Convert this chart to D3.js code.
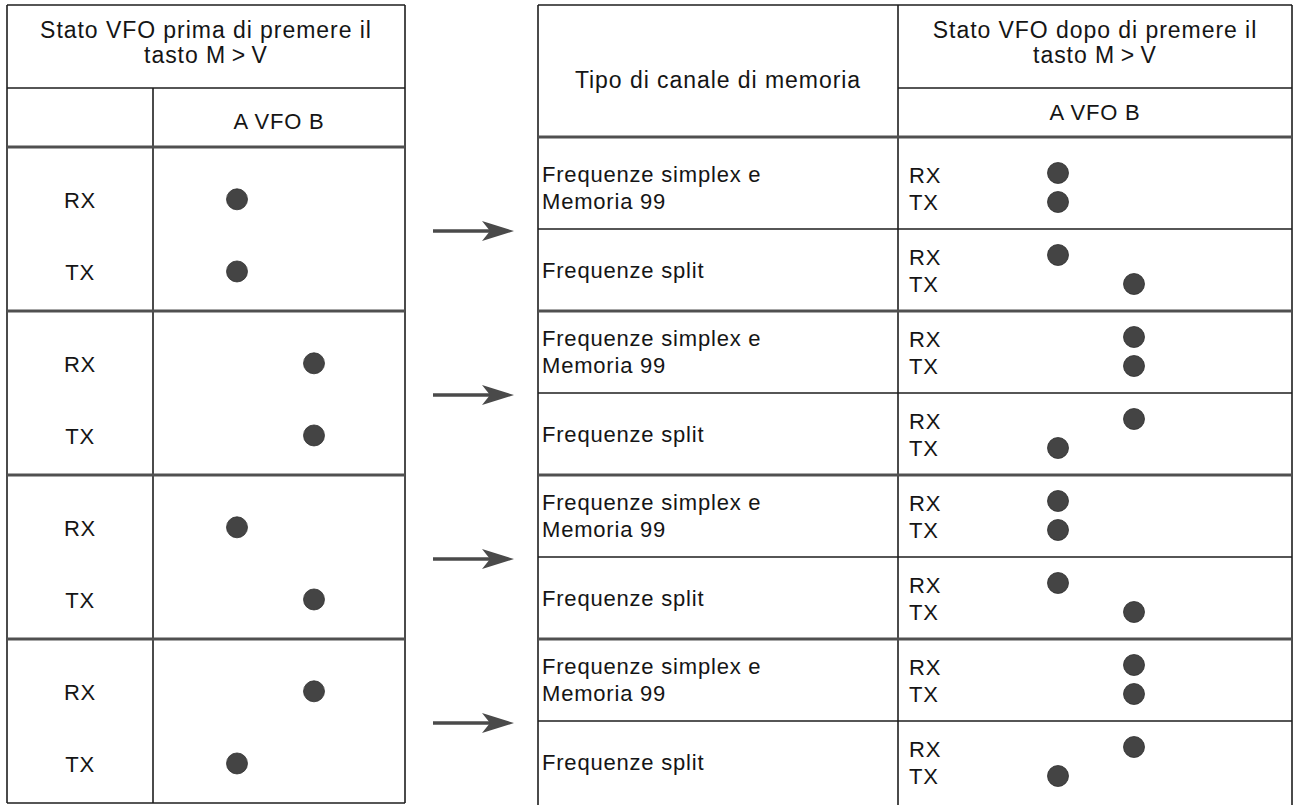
<!DOCTYPE html>
<html>
<head>
<meta charset="utf-8">
<script src="https://cdn.jsdelivr.net/npm/d3@7"></script>
<style>
  html, body { margin: 0; padding: 0; background: #fff; }
  svg text { font-family: "Liberation Sans", Arial, Helvetica, sans-serif; font-size: 22px; fill: #151515; letter-spacing: 0.8px; }
  svg text.hdr { font-size: 23px; letter-spacing: 0.95px; }
</style>
</head>
<body>
<svg id="chart" width="1300" height="805"></svg>
<script>
// ---- data ----
const groups = [0, 1, 2, 3];
const vfoSlots = ["A", "B"];
const beforeRX = ["A", "B", "A", "B"];
const beforeTX = ["A", "B", "B", "A"];
const memTypes = [["Frequenze simplex e", "Memoria 99"], ["Frequenze split"]];
const afterRX = [["A", "A"], ["B", "B"], ["A", "A"], ["B", "B"]]; // [simplex, split] per group
const afterTX = [["A", "B"], ["B", "A"], ["A", "B"], ["B", "A"]];
const headerBefore = ["Stato VFO prima di premere il", "tasto M\u2009>\u2009V"];
const headerAfter = ["Stato VFO dopo di premere il", "tasto M\u2009>\u2009V"];
const headerType = "Tipo di canale di memoria";
const vfoLabel = "A VFO B";
const rxtx = ["RX", "TX"];

// ---- layout ----
const svg = d3.select("#chart");
const L = { x0: 7, x1: 153, x2: 405, top: 5, h1: 88, h2: 147, bottom: 803 };
const R = { x0: 538, x1: 898, x2: 1292, top: 5, h1: 88, h2: 137, bottom: 805 };

const yGroup = d3.scaleBand().domain(groups).range([L.h2, L.bottom]);
const xLeft = d3.scalePoint().domain(vfoSlots).range([237, 314]);
const xRight = d3.scalePoint().domain(vfoSlots).range([1058, 1134]);

const thin = { stroke: "#1e1e1e", w: 1.6 };
const thick = { stroke: "#505050", w: 3.2 };
function line(x1, y1, x2, y2, s) {
  svg.append("line").attr("x1", x1).attr("y1", y1).attr("x2", x2).attr("y2", y2)
    .attr("stroke", s.stroke).attr("stroke-width", s.w);
}
function text(x, y, t, anchor, cls) {
  return svg.append("text").attr("x", x).attr("y", y).attr("dy", "0.35em")
    .attr("class", cls || null)
    .attr("text-anchor", anchor || "middle").text(t);
}
const dotR = 10.5;
function dot(x, y) {
  svg.append("circle").attr("cx", x).attr("cy", y).attr("r", dotR)
    .attr("fill", "#444444").attr("stroke", "#2e2e2e").attr("stroke-width", 0.8);
}

// ---- left table ----
line(L.x0, L.top, L.x2, L.top, thin);
line(L.x0, L.top, L.x0, L.bottom, thin);
line(L.x2, L.top, L.x2, L.bottom, thin);
line(L.x0, L.bottom, L.x2, L.bottom, thin);
line(L.x0, L.h1, L.x2, L.h1, thin);
line(L.x1, L.h1, L.x1, L.bottom, thin);
groups.forEach(g => { line(L.x0, yGroup(g), L.x2, yGroup(g), thick); });

text((L.x0 + L.x2) / 2, 30, headerBefore[0], "middle", "hdr");
text((L.x0 + L.x2) / 2, 55, headerBefore[1], "middle", "hdr");
text((L.x1 + L.x2) / 2, 121, vfoLabel);

groups.forEach(g => {
  const t = yGroup(g), h = yGroup.bandwidth();
  const yRX = t + 0.325 * h, yTX = t + 0.765 * h;
  text((L.x0 + L.x1) / 2, yRX, rxtx[0]);
  text((L.x0 + L.x1) / 2, yTX, rxtx[1]);
  dot(xLeft(beforeRX[g]), yRX - 1);
  dot(xLeft(beforeTX[g]), yTX - 1);
});

// ---- arrows ----
groups.forEach(g => {
  const y = yGroup(g) + yGroup.bandwidth() / 2 + 2;
  const xa = 433, xb = 514;
  svg.append("line").attr("x1", xa).attr("y1", y).attr("x2", xb - 20).attr("y2", y)
    .attr("stroke", "#4a4a4a").attr("stroke-width", 3.4);
  svg.append("path")
    .attr("d", `M${xb},${y} L${xb - 32},${y - 10} L${xb - 24},${y} L${xb - 32},${y + 10} Z`)
    .attr("fill", "#4a4a4a");
});

// ---- right table ----
line(R.x0, R.top, R.x2, R.top, thin);
line(R.x0, R.top, R.x0, R.bottom, thin);
line(R.x2, R.top, R.x2, R.bottom, thin);
line(R.x1, R.top, R.x1, R.bottom, thin);
line(R.x1, R.h1, R.x2, R.h1, thin);
line(R.x0, R.h2, R.x2, R.h2, thick);

text((R.x0 + R.x1) / 2, 80, headerType, "middle", "hdr");
text((R.x1 + R.x2) / 2, 30, headerAfter[0], "middle", "hdr");
text((R.x1 + R.x2) / 2, 55, headerAfter[1], "middle", "hdr");
text((R.x1 + R.x2) / 2, 112, vfoLabel);

groups.forEach(g => {
  const t = yGroup(g);
  const mid = yGroup(g) + yGroup.bandwidth() / 2;
  const b = yGroup(g) + yGroup.bandwidth();
  if (g > 0) line(R.x0, t, R.x2, t, thick);
  line(R.x0, mid, R.x2, mid, thin);
  const rows = [[t, mid], [mid, b]];
  rows.forEach((r, k) => {
    const c = (r[0] + r[1]) / 2;
    const lines = memTypes[k];
    lines.forEach((s, i) => {
      text(R.x0 + 4, c + (i - (lines.length - 1) / 2) * 27, s, "start");
    });
    text(R.x1 + 11, c - 13, rxtx[0], "start");
    text(R.x1 + 11, c + 14, rxtx[1], "start");
    dot(xRight(afterRX[g][k]), c - 15);
    dot(xRight(afterTX[g][k]), c + 14);
  });
});
</script>
</body>
</html>
